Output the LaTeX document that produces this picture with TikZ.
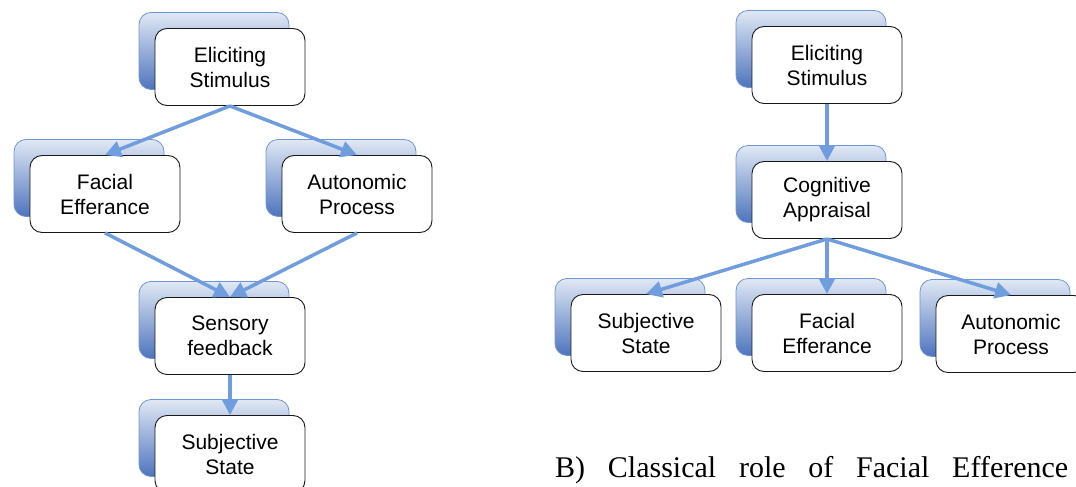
\documentclass[tikz,border=0pt]{standalone}
\usepackage{fontspec}
\setmainfont{Liberation Serif}
\setsansfont{Liberation Sans}
\usetikzlibrary{arrows.meta,shadows}
\definecolor{linkblue}{RGB}{112,157,222}
\definecolor{backtop}{RGB}{224,232,244}
\definecolor{backbot}{RGB}{78,116,190}
\definecolor{backline}{RGB}{110,150,215}
\tikzset{
  stage/.style={draw=black!90,line width=0.9pt,fill=white,rounded corners=12pt,
    minimum width=150pt,minimum height=77pt,align=center,
    font=\sffamily\fontsize{21}{25}\selectfont,
    copy shadow={shadow xshift=-16pt,shadow yshift=16pt,draw=backline,
      line width=0.8pt,top color=backtop,bottom color=backbot}},
  link/.style={draw=linkblue,line width=3.5pt,-{Triangle[length=16pt,width=16pt]}}
}

\begin{document}
\begin{tikzpicture}[x=1pt,y=-1pt]
  \useasboundingbox (0,0) rectangle (1076,487);
  % A) facial feedback
  \node[stage] (lstim)  at (230,67)  {Eliciting\\Stimulus};
  \node[stage] (lface)  at (105,194) {Facial\\Efferance};
  \node[stage] (lauto)  at (357,194) {Autonomic\\Process};
  \node[stage] (lsense) at (230,336) {Sensory\\feedback};
  \node[stage] (lsubj)  at (230,454) {Subjective\\State};
  \draw[link] (lstim.south) -- (lface.north);
  \draw[link] (lstim.south) -- (lauto.north);
  \draw[link] (lface.south) -- (lsense.north);
  \draw[link] (lauto.south) -- (lsense.north);
  \draw[link] (lsense.south) -- (lsubj.north);
  % B) classical role
  \node[stage] (rstim)  at (827,65)  {Eliciting\\Stimulus};
  \node[stage] (rcog)   at (827,200) {Cognitive\\Appraisal};
  \node[stage] (rsubj)  at (646,333) {Subjective\\State};
  \node[stage] (rface)  at (827,333) {Facial\\Efferance};
  \node[stage] (rauto)  at (1011,334) {Autonomic\\Process};
  \draw[link] (rstim.south) -- (rcog.north);
  \foreach \target in {rsubj,rface,rauto}
    \draw[link] (rcog.south) -- (\target.north);
  \node[anchor=base west,inner sep=0pt,font=\fontsize{30}{36}\selectfont] (caption)
    at (555,477) {\makebox[513pt][s]{B) Classical role of Facial Efference}};
\end{tikzpicture}
\end{document}
